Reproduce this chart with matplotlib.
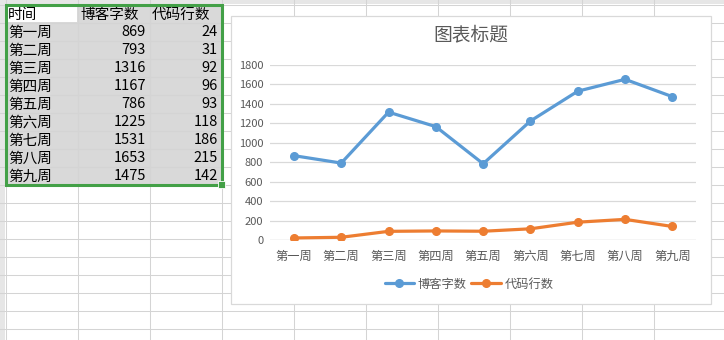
import matplotlib
matplotlib.use("Agg")
import matplotlib.pyplot as plt
from matplotlib.patches import Rectangle

plt.rcParams['font.family'] = ['Noto Sans CJK SC', 'DejaVu Sans']

# data from the sheet
weeks = ['第一周', '第二周', '第三周', '第四周', '第五周', '第六周', '第七周', '第八周', '第九周']
blog_words = [869, 793, 1316, 1167, 786, 1225, 1531, 1653, 1475]
code_lines = [24, 31, 92, 96, 93, 118, 186, 215, 142]
headers = ['时间', '博客字数', '代码行数']
y_ticks = [0, 200, 400, 600, 800, 1000, 1200, 1400, 1600, 1800]

W, H = 724, 340
GRID = '#d4d4d4'
CELL_GRAY = '#d9d9d9'
TXT = '#595959'
BLUE = '#5b9bd5'
ORANGE = '#ed7d31'


def fx(px):
    return px / W


def fy(py):
    return 1 - py / H


fig = plt.figure(figsize=(W / 100, H / 100), dpi=100, facecolor='white')

# spreadsheet background, in pixel coordinates
bg = fig.add_axes([0, 0, 1, 1])
bg.set_xlim(0, W)
bg.set_ylim(H, 0)
bg.axis('off')

col_x = [5 + 72 * k for k in range(11)]
row_y = [4 + 18 * k for k in range(20)]

# header strips
bg.add_patch(Rectangle((0, 0), W, 4, facecolor='#e6e6e6', edgecolor='none', zorder=0))
bg.add_patch(Rectangle((0, 0), 5, H, facecolor='#e6e6e6', edgecolor='none', zorder=0))

# selected range shading (active cell stays white)
bg.add_patch(Rectangle((col_x[0], row_y[0]), 216, 180, facecolor=CELL_GRAY,
                       edgecolor='none', zorder=0.5))
bg.add_patch(Rectangle((col_x[0], row_y[0]), 72, 18, facecolor='white',
                       edgecolor='none', zorder=0.6))

for x in col_x:
    bg.plot([x + 0.5, x + 0.5], [0, H], color=GRID, lw=0.75, zorder=1)
for y in row_y:
    bg.plot([0, W], [y + 0.5, y + 0.5], color=GRID, lw=0.75, zorder=1)

# cell text
cell_fs = 10.5
for j, h in enumerate(headers):
    bg.text(col_x[j] + 3, row_y[0] + 10.5, h, fontsize=cell_fs, color='black',
            ha='left', va='center', zorder=2)
for i, wk in enumerate(weeks):
    yc = row_y[i + 1] + 10.5
    bg.text(col_x[0] + 3, yc, wk, fontsize=cell_fs, color='black', ha='left', va='center', zorder=2)
    bg.text(col_x[2] - 3, yc, str(blog_words[i]), fontsize=cell_fs, color='black',
            ha='right', va='center', zorder=2)
    bg.text(col_x[3] - 3, yc, str(code_lines[i]), fontsize=cell_fs, color='black',
            ha='right', va='center', zorder=2)

# selection border + handle
bg.add_patch(Rectangle((col_x[0] + 0.5, row_y[0] + 0.5), 216, 180, facecolor='none',
                       edgecolor='#43a047', lw=2.2, zorder=3))
bg.add_patch(Rectangle((col_x[3] - 3, row_y[10] - 3), 7, 7, facecolor='#43a047',
                       edgecolor='white', lw=0.6, zorder=4))

# chart box
bg.add_patch(Rectangle((230.5, 15.5), 480, 288, facecolor='white', edgecolor='#d9d9d9',
                       lw=0.9, zorder=5))

# plot area
left, right, top, bottom = 270.3, 696, 65, 240.3
ax = fig.add_axes([fx(left), fy(bottom), fx(right - left), (bottom - top) / H])
ax.set_facecolor('none')
xs = list(range(len(weeks)))
l1, = ax.plot(xs, blog_words, color=BLUE, lw=2.3, marker='o', markersize=5.5,
              solid_capstyle='round', label='博客字数', zorder=3)
l2, = ax.plot(xs, code_lines, color=ORANGE, lw=2.3, marker='o', markersize=5.5,
              solid_capstyle='round', label='代码行数', zorder=3)
ax.set_xlim(-0.5, len(weeks) - 0.5)
ax.set_ylim(0, 1800)
ax.set_yticks(y_ticks)
ax.set_yticklabels([str(v) for v in y_ticks])
ax.set_xticks(xs)
ax.set_xticklabels(weeks)
ax.yaxis.grid(True, color='#d9d9d9', lw=0.9)
ax.set_axisbelow(True)
for s in ax.spines.values():
    s.set_visible(False)
ax.tick_params(axis='y', length=0, pad=5, labelsize=8, labelcolor=TXT)
ax.tick_params(axis='x', length=0, pad=7, labelsize=8.8, labelcolor=TXT)
ax.axhline(0, color='#d9d9d9', lw=0.9, zorder=1)

fig.text(fx(471), fy(35), '图表标题', fontsize=13.5, color=TXT, ha='center', va='center')

fig.legend(handles=[l1, l2], loc='center', bbox_to_anchor=(fx(469), fy(284)),
           ncol=2, frameon=False, fontsize=8.8, labelcolor=TXT, handlelength=2.4,
           handletextpad=0.3, columnspacing=0.4)

fig.savefig('out.png', dpi=100, facecolor='white')
